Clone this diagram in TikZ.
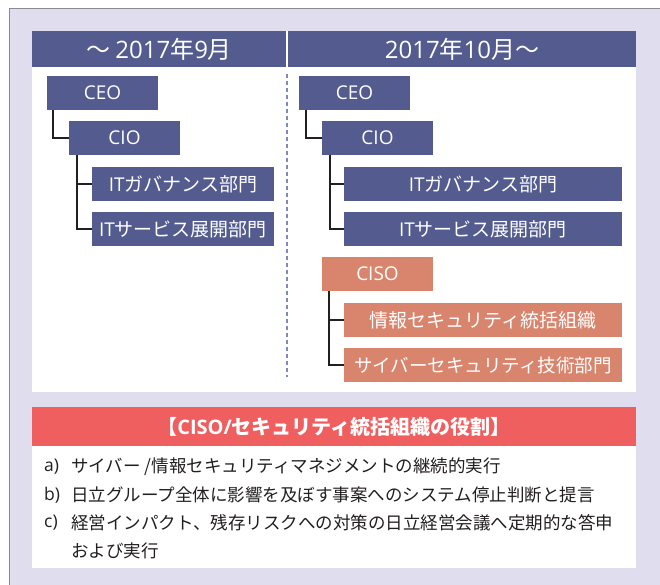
\documentclass[tikz,border=0pt]{standalone}
\usepackage{fontspec}
\setmainfont{Noto Sans CJK JP}
\newfontfamily\lat{Open Sans}
\definecolor{lav}{HTML}{E0DEEE}
\definecolor{navy}{HTML}{535B8F}
\definecolor{salmon}{HTML}{D9846C}
\definecolor{redbar}{HTML}{EF5F5F}
\definecolor{dashc}{HTML}{7F86C0}
\definecolor{linec}{HTML}{231F20}
\definecolor{framec}{HTML}{8A8A8A}
\definecolor{textc}{HTML}{231F20}
\begin{document}
\begin{tikzpicture}[x=1pt,y=-1pt,
  hdr/.style={fill=navy,text=white,inner sep=0pt,minimum height=36pt,font=\fontsize{24}{26}\selectfont},
  orgbox/.style={fill=navy,text=white,inner sep=0pt,minimum height=34pt,font=\fontsize{19}{21}\selectfont},
  secbox/.style={orgbox,fill=salmon},
  conn/.style={draw=linec,line width=2pt},
  sep/.style={draw=dashc,line width=1.2pt,dash pattern=on 4pt off 3pt},
  itemlbl/.style={anchor=west,inner sep=0pt,text=textc,font=\fontsize{17.5}{20}\selectfont},
  itemtxt/.style={anchor=west,inner sep=0pt,text=textc,font=\fontsize{17.5}{20}\selectfont}
]
\useasboundingbox (0,0) rectangle (660,584);
\fill[white] (0,0) rectangle (660,584);
\filldraw[fill=lav,draw=framec,line width=1.3pt] (9.5,8.5) rectangle (690,600);
\fill[white] (32,31) rectangle (636,392);
% headers
\node[hdr,minimum width=254pt] (hL) at (159,49) {～ {\lat 2017}年{\lat 9}月};
\node[hdr,minimum width=348pt] (hR) at (462,49) {{\lat 2017}年{\lat 10}月～};
% separator
\coordinate (dtop) at (287,74);
\coordinate (dbot) at (287,377);
\draw[sep] (dtop) -- (dbot);
% left column
\node[orgbox,minimum width=111pt] (ceoL) at (102.5,93) {\lat CEO};
\node[orgbox,minimum width=111pt] (cioL) at (124.5,138) {\lat CIO};
\node[orgbox,minimum width=182pt] (govL) at (183,184) {{\lat IT}ガバナンス部門};
\node[orgbox,minimum width=182pt] (svcL) at (183,229) {{\lat IT}サービス展開部門};
% right column
\node[orgbox,minimum width=111pt] (ceoR) at (354.5,93) {\lat CEO};
\node[orgbox,minimum width=111pt] (cioR) at (377.5,138) {\lat CIO};
\node[orgbox,minimum width=278pt] (govR) at (483,184) {{\lat IT}ガバナンス部門};
\node[orgbox,minimum width=278pt] (svcR) at (483,229) {{\lat IT}サービス展開部門};
\node[secbox,minimum width=111pt] (ciso) at (377.5,274) {\lat CISO};
\node[secbox,minimum width=278pt] (secorg) at (483,320) {情報セキュリティ統括組織};
\node[secbox,minimum width=278pt] (cyber) at (483,365) {\fontsize{18.5}{21}\selectfont サイバーセキュリティ技術部門};
% connectors
\draw[conn] ([xshift=6pt]ceoL.south west) |- (cioL.west);
\draw[conn] ([xshift=8pt]cioL.south west) |- (govL.west);
\draw[conn] ([xshift=8pt]cioL.south west) |- (svcL.west);
\draw[conn] ([xshift=7pt]ceoR.south west) |- (cioR.west);
\draw[conn] ([xshift=8pt]cioR.south west) |- (govR.west);
\draw[conn] ([xshift=8pt]cioR.south west) |- (svcR.west);
\draw[conn] ([xshift=7pt]ciso.south west) |- (secorg.west);
\draw[conn] ([xshift=7pt]ciso.south west) |- (cyber.west);
% bottom panel
\fill[white] (32,446) rectangle (636,568);
\node[fill=redbar,text=white,inner sep=0pt,minimum width=604pt,minimum height=39pt,
  font=\fontsize{20}{22}\selectfont\bfseries] (role) at (334,426.5) {【{\lat\bfseries CISO/}セキュリティ統括組織の役割】};
\node[itemlbl] (la) at (44,467) {\lat a)};
\node[itemtxt] (ta) at (71,467) {サイバー /情報セキュリティマネジメントの継続的実行};
\node[itemlbl] (lb) at (44,495) {\lat b)};
\node[itemtxt] (tb) at (71,495) {日立グループ全体に影響を及ぼす事案へのシステム停止判断と提言};
\node[itemlbl] (lc) at (44,523) {\lat c)};
\node[itemtxt] (tc) at (71,523) {経営インパクト、残存リスクへの対策の日立経営会議へ定期的な答申};
\node[itemtxt] (td) at (71,551) {および実行};
\end{tikzpicture}
\end{document}
